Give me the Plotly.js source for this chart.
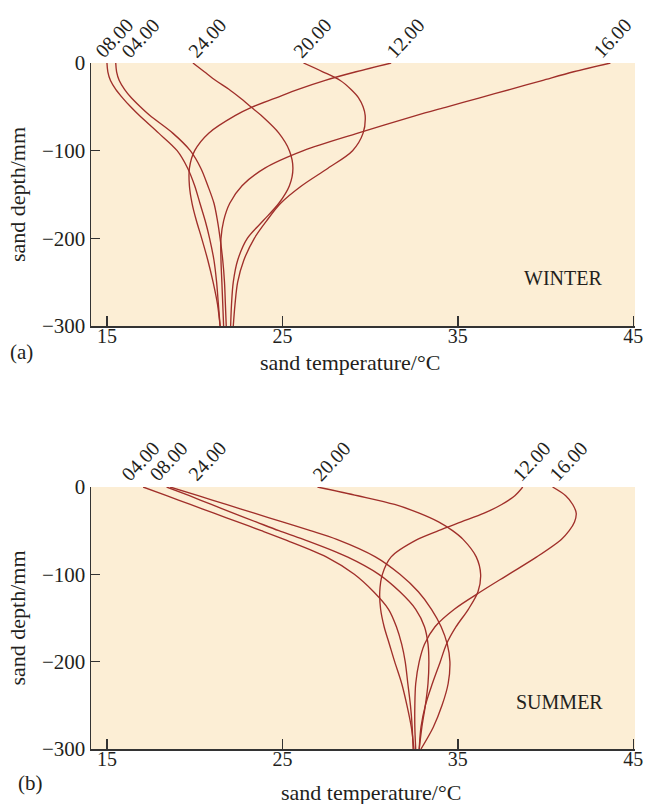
<!DOCTYPE html>
<html>
<head>
<meta charset="utf-8">
<script src="https://cdn.plot.ly/plotly-3.0.1.min.js"></script>
<style>html,body{margin:0;padding:0;background:#fff;}#chart{width:646px;height:804px;}</style>
</head>
<body>
<div id="chart"></div>
<script>
// sand depth (mm), shared by all curves
const depth = [0,-10,-20,-30,-40,-50,-60,-80,-100,-120,-140,-160,-180,-200,-225,-250,-275,-300];

// (a) WINTER : sand temperature (°C) at each depth
const winterTimes = ['08.00','04.00','24.00','20.00','12.00','16.00'];
const w0800 = [15.0,15.05,15.2,15.5,15.9,16.35,16.85,17.95,19.0,19.6,20.0,20.3,20.6,20.85,21.1,21.25,21.35,21.45];
const w0400 = [15.5,15.55,15.7,16.0,16.4,16.9,17.45,18.75,19.75,20.35,20.75,21.1,21.3,21.45,21.6,21.7,21.75,21.8];
const w2400 = [19.9,20.55,21.2,21.95,22.6,23.2,23.8,24.8,25.4,25.6,25.4,24.8,23.9,23.0,22.45,22.2,22.1,22.05];
const w2000 = [26.2,27.3,28.3,28.9,29.35,29.6,29.72,29.6,29.0,27.6,26.1,24.9,24.1,23.4,22.8,22.45,22.3,22.2];
const w1200 = [31.2,29.2,27.4,25.9,24.6,23.3,22.3,20.8,20.0,19.7,19.7,19.85,20.1,20.4,20.75,21.05,21.3,21.45];
const w1600 = [43.7,41.6,39.8,38.0,36.2,34.4,32.6,29.3,26.2,24.0,22.7,22.0,21.65,21.5,21.5,21.55,21.6,21.65];
const winterLabelX = [14.2,15.7,19.5,25.5,30.8,42.6];

// (b) SUMMER
const summerTimes = ['04.00','08.00','24.00','20.00','12.00','16.00'];
const s0400 = [17.06,18.4,19.75,21.1,22.45,23.8,25.1,27.5,29.1,30.2,31.05,31.5,31.8,32.0,32.15,32.3,32.4,32.45];
const s0800 = [18.4,19.7,20.95,22.2,23.5,24.8,26.2,28.7,30.5,31.7,32.6,33.1,33.3,33.35,33.3,33.15,32.95,32.8];
const s2400 = [18.6,20.2,21.8,23.4,25.0,26.6,28.1,30.3,31.7,32.75,33.5,34.05,34.4,34.55,34.45,34.1,33.6,32.9];
const s2000 = [27.0,29.3,31.4,32.8,33.9,34.7,35.3,36.05,36.3,36.15,35.6,34.9,34.35,34.0,33.55,33.15,32.9,32.8];
const s1200 = [38.7,38.25,37.5,36.5,35.2,33.9,32.7,31.2,30.7,30.55,30.6,30.8,31.1,31.4,31.8,32.1,32.35,32.5];
const s1600 = [40.4,41.15,41.55,41.75,41.65,41.35,40.9,39.5,37.9,36.3,34.8,33.7,33.1,32.8,32.6,32.55,32.55,32.6];
const summerLabelX = [15.7,17.3,19.5,26.6,38.0,40.1];

const xTicks = [15,25,35,45];
const yTicks = [0,-100,-200,-300];

const winterSeries = [w0800,w0400,w2400,w2000,w1200,w1600];
const summerSeries = [s0400,s0800,s2400,s2000,s1200,s1600];

const lineColor = '#A02F2A';
const font = 'Liberation Serif, Times New Roman, serif';
const textColor = '#231f1c';

const traces = [];
winterSeries.forEach((s,i) => traces.push({
  x: s, y: depth, xaxis: 'x', yaxis: 'y', type: 'scatter', mode: 'lines',
  name: 'winter ' + winterTimes[i],
  line: {color: lineColor, width: 1.35, shape: 'spline', smoothing: 0.9}
}));
summerSeries.forEach((s,i) => traces.push({
  x: s, y: depth, xaxis: 'x2', yaxis: 'y2', type: 'scatter', mode: 'lines',
  name: 'summer ' + summerTimes[i],
  line: {color: lineColor, width: 1.35, shape: 'spline', smoothing: 0.9}
}));

const annotations = [];
winterTimes.forEach((t,i) => annotations.push({
  text: t, x: winterLabelX[i], y: 0, xref: 'x', yref: 'y',
  xanchor: 'left', yanchor: 'bottom', textangle: -47, showarrow: false, xshift: -5, yshift: -2,
  font: {family: font, size: 20, color: textColor}
}));
summerTimes.forEach((t,i) => annotations.push({
  text: t, x: summerLabelX[i], y: 0, xref: 'x2', yref: 'y2',
  xanchor: 'left', yanchor: 'bottom', textangle: -47, showarrow: false, xshift: -5, yshift: -1,
  font: {family: font, size: 20, color: textColor}
}));
annotations.push({text: 'WINTER', x: 41.0, y: -245, xref: 'x', yref: 'y', showarrow: false,
  xanchor: 'center', yanchor: 'middle', font: {family: font, size: 20, color: textColor}});
annotations.push({text: 'SUMMER', x: 40.8, y: -246, xref: 'x2', yref: 'y2', showarrow: false,
  xanchor: 'center', yanchor: 'middle', font: {family: font, size: 20, color: textColor}});
// panel letters and x-axis titles (paper coords: x relative to the plot area)
const plotL = 91, plotW = 544, figH = 804;
function paperNote(text, px, py, size) {
  return {text: text, x: (px - plotL)/plotW, y: 1 - py/figH, xref: 'paper', yref: 'paper',
    xanchor: 'center', yanchor: 'middle', showarrow: false,
    font: {family: font, size: size, color: textColor}};
}
annotations.push(paperNote('(a)', 21, 352, 21));
annotations.push(paperNote('(b)', 30, 783, 21));
annotations.push(paperNote('sand temperature/°C', 350, 362, 22));
annotations.push(paperNote('sand temperature/°C', 371, 792, 22));

function xAxis(anchor) {
  return {
    anchor: anchor, domain: [0,1], range: [14.09, 45.1],
    tickvals: xTicks, ticks: 'inside', ticklen: 10, tickwidth: 1.5, tickcolor: '#333',
    showline: true, linecolor: '#333', linewidth: 1.5, showgrid: false, zeroline: false,
    ticklabelstandoff: -9,
    tickfont: {family: font, size: 20, color: textColor},
    fixedrange: true
  };
}
function yAxis(anchor, dom) {
  return {
    anchor: anchor, domain: dom, range: [-300, 0],
    tickvals: yTicks, ticks: 'inside', ticklen: 9, tickwidth: 1.5, tickcolor: '#333',
    showline: true, linecolor: '#333', linewidth: 1.5, showgrid: false, zeroline: false,
    tickfont: {family: font, size: 21, color: textColor},
    title: {text: 'sand depth/mm', font: {family: font, size: 22, color: textColor}, standoff: 10},
    fixedrange: true
  };
}

const layout = {
  width: 646, height: 804,
  margin: {l: 91, r: 11, t: 0, b: 0, autoexpand: false},
  paper_bgcolor: '#ffffff', plot_bgcolor: '#FCEED5',
  showlegend: false,
  xaxis: xAxis('y'),
  yaxis: yAxis('x', [1 - 326/804, 1 - 63/804]),
  xaxis2: xAxis('y2'),
  yaxis2: yAxis('x2', [1 - 749/804, 1 - 487/804]),
  annotations: annotations
};

Plotly.newPlot('chart', traces, layout, {displayModeBar: false, staticPlot: true});
</script>
</body>
</html>
